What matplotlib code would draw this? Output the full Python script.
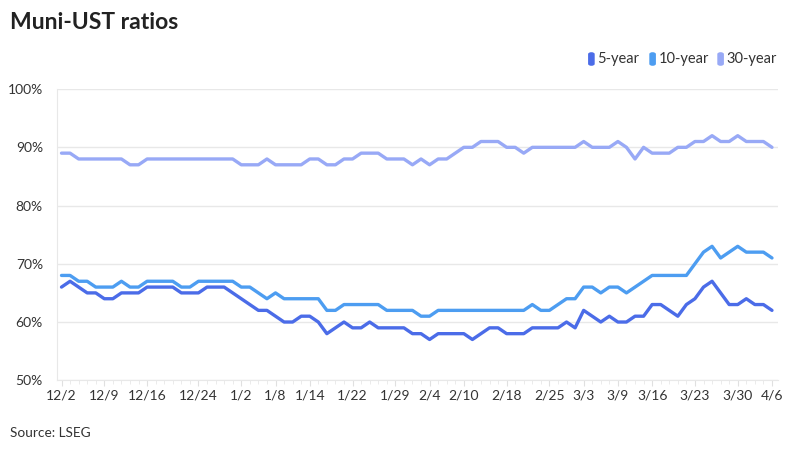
import numpy as np
import matplotlib.pyplot as plt
from matplotlib.patches import FancyBboxPatch

plt.rcParams['font.family'] = ['Lato', 'DejaVu Sans']

# Datos (ratio %, un punto por día hábil desde 12/2 hasta 4/6)
five_year = [66, 67, 66, 65, 65, 64, 64, 65, 65, 65,
             66, 66, 66, 66, 65, 65, 65, 66, 66, 66,
             65, 64, 63, 62, 62, 61, 60, 60, 61, 61,
             60, 58, 59, 60, 59, 59, 60, 59, 59, 59,
             59, 58, 58, 57, 58, 58, 58, 58, 57, 58,
             59, 59, 58, 58, 58, 59, 59, 59, 59, 60,
             59, 62, 61, 60, 61, 60, 60, 61, 61, 63,
             63, 62, 61, 63, 64, 66, 67, 65, 63, 63,
             64, 63, 63, 62]
ten_year = [68, 68, 67, 67, 66, 66, 66, 67, 66, 66,
            67, 67, 67, 67, 66, 66, 67, 67, 67, 67,
            67, 66, 66, 65, 64, 65, 64, 64, 64, 64,
            64, 62, 62, 63, 63, 63, 63, 63, 62, 62,
            62, 62, 61, 61, 62, 62, 62, 62, 62, 62,
            62, 62, 62, 62, 62, 63, 62, 62, 63, 64,
            64, 66, 66, 65, 66, 66, 65, 66, 67, 68,
            68, 68, 68, 68, 70, 72, 73, 71, 72, 73,
            72, 72, 72, 71]
thirty_year = [89, 89, 88, 88, 88, 88, 88, 88, 87, 87,
               88, 88, 88, 88, 88, 88, 88, 88, 88, 88,
               88, 87, 87, 87, 88, 87, 87, 87, 87, 88,
               88, 87, 87, 88, 88, 89, 89, 89, 88, 88,
               88, 87, 88, 87, 88, 88, 89, 90, 90, 91,
               91, 91, 90, 90, 89, 90, 90, 90, 90, 90,
               90, 91, 90, 90, 90, 91, 90, 88, 90, 89,
               89, 89, 90, 90, 91, 91, 92, 91, 91, 92,
               91, 91, 91, 90]

tick_idx = [0, 5, 10, 16, 21, 25, 29, 34, 39, 43, 47, 52, 57, 61, 65, 69, 74, 79, 83]
tick_labels = ['12/2', '12/9', '12/16', '12/24', '1/2', '1/8', '1/14', '1/22', '1/29',
               '2/4', '2/10', '2/18', '2/25', '3/3', '3/9', '3/16', '3/23', '3/30', '4/6']

series = ['5-year', '10-year', '30-year']
colors = ['#4b6ce8', '#4d9df1', '#98a9f6']

x = np.arange(len(five_year))

fig = plt.figure(figsize=(8, 4.5), dpi=100)
ax = fig.add_axes([0.071, 0.155, 0.902, 0.647])

for vals, c in zip([five_year, ten_year, thirty_year], colors):
    ax.plot(x, vals, color=c, lw=2.4, solid_joinstyle='round', solid_capstyle='round')

ax.set_ylim(50, 100)
ax.set_xlim(-0.55, len(x) - 1 + 0.75)
ax.set_yticks(range(50, 101, 10))
ax.set_yticklabels([f'{v}%' for v in range(50, 101, 10)])
ax.set_xticks(tick_idx)
ax.set_xticklabels(tick_labels)
ax.set_xticks(x, minor=True)

ax.grid(axis='y', color='#e8e8e8', lw=1)
ax.set_axisbelow(True)
for s in ['top', 'right']:
    ax.spines[s].set_visible(False)
ax.spines['left'].set_color('#e8e8e8')
ax.spines['bottom'].set_color('#e8e8e8')

ax.tick_params(axis='y', length=0, pad=10, labelsize=10, labelcolor='#333333')
ax.tick_params(axis='x', which='major', length=4, color='#e0e0e0', pad=3,
               labelsize=10, labelcolor='#333333')
ax.tick_params(axis='x', which='minor', length=3, color='#e8e8e8')

# Título y fuente
fig.text(0.0125, 0.951, 'Muni-UST ratios', fontsize=16.5, fontweight='bold',
         color='#222222', va='center', ha='left')
fig.text(0.0125, 0.037, 'Source: LSEG', fontsize=9.8, color='#333333',
         va='center', ha='left')

# Leyenda manual
leg_x = [0.736, 0.8125, 0.8975]
leg_y = 1 - 59 / 450
for lx, name, c in zip(leg_x, series, colors):
    fig.patches.append(FancyBboxPatch((lx, leg_y - 0.0135), 0.0065, 0.027,
                                      boxstyle='round,pad=0,rounding_size=0.003',
                                      transform=fig.transFigure, color=c))
    fig.text(lx + 0.0105, leg_y, name, fontsize=10.5, color='#333333',
             va='center', ha='left')

fig.savefig('out.png', dpi=100)
